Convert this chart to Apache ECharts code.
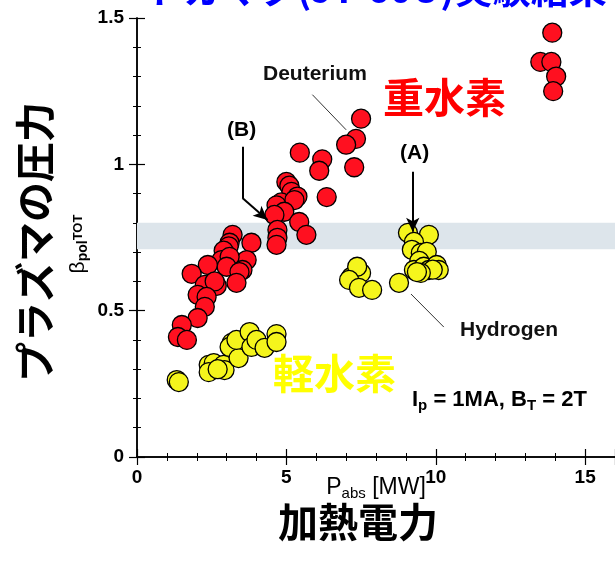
<!DOCTYPE html>
<html><head><meta charset="utf-8">
<script src="https://cdn.jsdelivr.net/npm/echarts@6/dist/echarts.min.js"></script>
<style>html,body{margin:0;padding:0;background:#fff}#c{width:615px;height:571px}</style>
</head><body><div id="c"></div>
<script>
// ---- data ----
const deuteriumX = [13.9, 13.5, 13.87, 14.03, 13.93, 7.5, 7.33, 7.0, 5.45, 6.2, 6.1, 7.27, 6.35, 5.0, 5.1, 5.17, 5.37, 4.83, 4.67, 5.27, 4.93, 4.6, 5.43, 5.67, 4.7, 4.7, 4.67, 3.2, 3.1, 3.07, 2.9, 3.83, 2.83, 3.67, 3.1, 3.0, 3.53, 3.43, 2.37, 1.83, 2.27, 2.67, 2.6, 3.33, 2.03, 2.33, 2.27, 2.03, 1.5, 1.37, 1.67];
const deuteriumY = [1.45, 1.35, 1.35, 1.30, 1.25, 1.156, 1.087, 1.067, 1.04, 1.017, 0.978, 0.99, 0.888, 0.94, 0.927, 0.906, 0.89, 0.87, 0.86, 0.878, 0.838, 0.827, 0.803, 0.759, 0.776, 0.749, 0.725, 0.759, 0.732, 0.72, 0.705, 0.732, 0.673, 0.673, 0.684, 0.65, 0.639, 0.632, 0.656, 0.626, 0.588, 0.585, 0.6, 0.595, 0.554, 0.547, 0.513, 0.475, 0.451, 0.41, 0.40];
const hydrogenX = [1.33, 1.4, 2.4, 2.57, 2.9, 2.4, 2.93, 2.7, 3.17, 3.1, 3.4, 3.33, 3.77, 3.83, 4.0, 4.27, 4.67, 4.67, 9.07, 9.77, 9.27, 9.2, 9.5, 9.7, 9.45, 9.27, 9.6, 9.77, 10.03, 10.1, 9.9, 9.5, 9.37, 8.77, 7.17, 7.5, 7.37, 7.1, 7.43, 7.87];
const hydrogenY = [0.263, 0.256, 0.315, 0.321, 0.315, 0.29, 0.297, 0.30, 0.39, 0.376, 0.338, 0.40, 0.427, 0.376, 0.40, 0.373, 0.42, 0.393, 0.766, 0.759, 0.735, 0.708, 0.697, 0.701, 0.67, 0.639, 0.65, 0.639, 0.656, 0.639, 0.64, 0.629, 0.632, 0.595, 0.615, 0.629, 0.65, 0.605, 0.578, 0.571];
const bandRange = [0.71, 0.80];
const xRange = [0, 16];
const yRange = [0, 1.5];
const xTickStep = 5;
const yTickStep = 0.5;

// annotation anchor points in data units
const arrowA = [[9.23, 0.975], [9.23, 0.77]];
const arrowB = [[3.53, 1.06], [3.53, 0.885], [4.37, 0.81]];
const leaderD = [[5.87, 1.238], [7.0, 1.118]];
const leaderH = [[9.17, 0.557], [10.27, 0.444]];

const pairs = (xs, ys) => xs.map((x, i) => [x, ys[i]]);

const F = '"Liberation Sans", Arial, sans-serif';
const J = '"Noto Sans CJK JP", "Noto Sans CJK SC", sans-serif';

const chart = echarts.init(document.getElementById('c'));

function axisBase(extra) {
  return Object.assign({
    axisLine: { show: true, lineStyle: { color: '#000', width: 1.5 } },
    axisTick: { show: true, inside: true, length: 8, lineStyle: { color: '#000', width: 1.2 } },
    minorTick: { show: true, splitNumber: 5, length: 4, lineStyle: { color: '#000', width: 1 } },
    splitLine: { show: false },
    minorSplitLine: { show: false }
  }, extra);
}

const labelStyle = { fontFamily: F, fontSize: 19, fontWeight: 'bold', color: '#000' };

const option = {
  animation: false,
  backgroundColor: '#fff',
  grid: { left: 137, top: 18, width: 480, height: 439, containLabel: false },
  xAxis: [
    axisBase({ type: 'value', position: 'bottom', min: xRange[0], max: xRange[1], interval: xTickStep,
      axisLabel: Object.assign({ margin: 11, showMaxLabel: false }, labelStyle) }),
    axisBase({ type: 'value', position: 'top', min: xRange[0], max: xRange[1], interval: xTickStep,
      axisLabel: { show: false } })
  ],
  yAxis: [
    axisBase({ type: 'value', position: 'left', min: yRange[0], max: yRange[1], interval: yTickStep,
      axisLabel: Object.assign({ margin: 13 }, labelStyle) }),
    axisBase({ type: 'value', position: 'right', min: yRange[0], max: yRange[1], interval: yTickStep,
      axisLabel: { show: false } })
  ],
  series: [
    {
      type: 'scatter', name: 'band', data: [], z: 1, silent: true,
      markArea: { silent: true, itemStyle: { color: '#dde5eb' },
        data: [[{ yAxis: bandRange[0] }, { yAxis: bandRange[1] }]] }
    },
    {
      type: 'scatter', name: 'Hydrogen', data: pairs(hydrogenX, hydrogenY), z: 3,
      symbol: 'circle', symbolSize: 19,
      itemStyle: { color: '#f5f51c', borderColor: '#000', borderWidth: 1.3, opacity: 1 }
    },
    {
      type: 'scatter', name: 'Deuterium', data: pairs(deuteriumX, deuteriumY), z: 3,
      symbol: 'circle', symbolSize: 19,
      itemStyle: { color: '#ff1020', borderColor: '#000', borderWidth: 1.3, opacity: 1 }
    },
    {
      type: 'scatter', name: 'leaders', data: [], z: 5, silent: true,
      markLine: { silent: true, symbol: 'none', label: { show: false },
        lineStyle: { color: '#333', width: 1, type: 'solid' },
        data: [
          [{ coord: leaderD[0] }, { coord: leaderD[1] }],
          [{ coord: leaderH[0] }, { coord: leaderH[1] }]
        ] }
    },
    {
      type: 'scatter', name: 'arrows', data: [], z: 6, silent: true,
      markLine: { silent: true, symbol: ['none', 'none'], label: { show: false },
        lineStyle: { color: '#000', width: 2, type: 'solid' },
        data: [
          [{ coord: arrowA[0] }, { coord: arrowA[1], symbol: 'arrow', symbolSize: [10, 14] }],
          [{ coord: arrowB[0] }, { coord: arrowB[1] }],
          [{ coord: arrowB[1] }, { coord: arrowB[2], symbol: 'arrow', symbolSize: [10, 14] }]
        ] }
    }
  ],
  graphic: [
    { type: 'text', left: 145, top: -30, silent: true,
      style: { text: 'トカマク(JT-60U)実験結果', fontFamily: J, fontSize: 38, fontWeight: 'bold', fill: '#0000ff' } },
    { type: 'text', x: 263, y: 74, silent: true,
      style: { text: 'Deuterium', fontFamily: F, fontSize: 21, fontWeight: 'bold', fill: '#111', textVerticalAlign: 'middle' } },
    { type: 'text', x: 383, y: 97, silent: true,
      style: { text: '重水素', fontFamily: J, fontSize: 41, fontWeight: 'bold', fill: '#ff0000', textVerticalAlign: 'middle' } },
    { type: 'text', x: 227, y: 130, silent: true,
      style: { text: '(B)', fontFamily: F, fontSize: 21, fontWeight: 'bold', fill: '#000', textVerticalAlign: 'middle' } },
    { type: 'text', x: 400, y: 153, silent: true,
      style: { text: '(A)', fontFamily: F, fontSize: 21, fontWeight: 'bold', fill: '#000', textVerticalAlign: 'middle' } },
    { type: 'text', x: 460, y: 330, silent: true,
      style: { text: 'Hydrogen', fontFamily: F, fontSize: 21, fontWeight: 'bold', fill: '#111', textVerticalAlign: 'middle' } },
    { type: 'text', x: 273, y: 373, silent: true,
      style: { text: '軽水素', fontFamily: J, fontSize: 41, fontWeight: 'bold', fill: '#ffff00', textVerticalAlign: 'middle' } },
    { type: 'text', x: 412, y: 400, silent: true,
      style: { text: '{m|I}{s|p}{m| = 1MA, B}{s|T}{m| = 2T}', fontFamily: F, fill: '#000', textVerticalAlign: 'middle',
        rich: { m: { fontFamily: F, fontSize: 22, fontWeight: 'bold', lineHeight: 26, verticalAlign: 'middle' },
                s: { fontFamily: F, fontSize: 15, fontWeight: 'bold', lineHeight: 15, verticalAlign: 'bottom' } } } },
    { type: 'text', x: 35, y: 242, rotation: Math.PI / 2, silent: true,
      style: { text: 'プラズマの圧力', fontFamily: J, fontSize: 40, fontWeight: 'bold', fill: '#000', textAlign: 'center', textVerticalAlign: 'middle' } },
    { type: 'text', x: 78, y: 244, rotation: Math.PI / 2, silent: true,
      style: { text: '{b|β}{s|pol}{t|TOT}', fill: '#000', textAlign: 'center', textVerticalAlign: 'middle',
        rich: { b: { fontFamily: F, fontSize: 21, lineHeight: 24, verticalAlign: 'middle' },
                s: { fontFamily: F, fontSize: 14, fontWeight: 'bold', lineHeight: 14, verticalAlign: 'bottom' },
                t: { fontFamily: F, fontSize: 13, fontWeight: 'bold', lineHeight: 13, verticalAlign: 'middle' } } } },
    { type: 'text', x: 376, y: 488, silent: true,
      style: { text: '{m|P}{s|abs}{m| [MW]}', fill: '#000', textAlign: 'center', textVerticalAlign: 'middle',
        rich: { m: { fontFamily: F, fontSize: 23, lineHeight: 26, verticalAlign: 'middle' },
                s: { fontFamily: F, fontSize: 15, lineHeight: 15, verticalAlign: 'bottom' } } } },
    { type: 'text', x: 358, y: 522, silent: true,
      style: { text: '加熱電力', fontFamily: J, fontSize: 40, fontWeight: 'bold', fill: '#000', textAlign: 'center', textVerticalAlign: 'middle' } }
  ]
};
chart.setOption(option);
</script>
</body></html>
